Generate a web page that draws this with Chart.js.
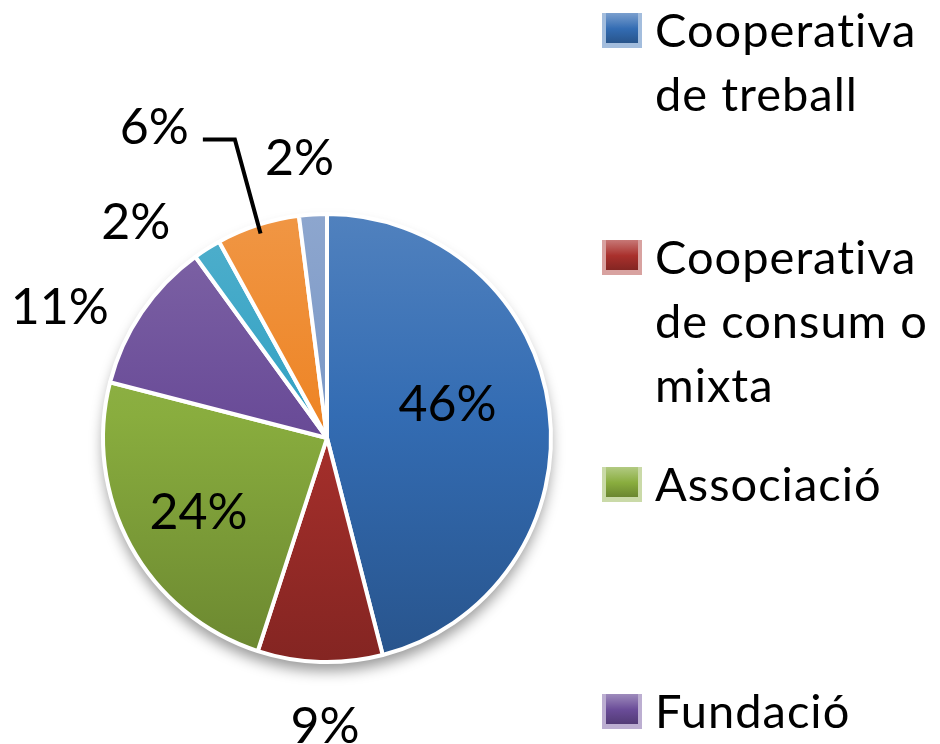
<!DOCTYPE html>
<html>
<head>
<meta charset="utf-8">
<script src="https://cdn.jsdelivr.net/npm/chart.js@4.4.1/dist/chart.umd.min.js"></script>
<style>
  html, body { margin: 0; padding: 0; background: #fff; }
</style>
</head>
<body>
<canvas id="pieChart" width="940" height="744"></canvas>
<script>
// legend labels, one inner array per category (as wrapped in the original)
const categories = [
    ['Cooperativa', 'de treball'],
    ['Cooperativa', 'de consum o', 'mixta'],
    ['Associació'],
    ['Fundació'],
    ['Societat laboral'],
    ["Empresa d'inserció"],
    ['Altres']
];
const percentValues = [46, 9, 24, 11, 2, 6, 2];
const sliceColors = ['#336cb3', '#a9302c', '#89ad3e', '#6a4c98', '#33a2c4', '#ee8526', '#7b98c6'];

// where each percentage sits: distance in pie radii and a turn in degrees from the slice middle
const labelDistance = [0.56, 1.28, 0.66, 1.33, 1.29, 1.59, 1.26];
const labelTurn = [-9, -1.4, -0.8, -8, -9, -11, -2];

const FONT = 'Lato, "Open Sans", sans-serif';

document.addEventListener('DOMContentLoaded', () => {
    initializeChart();
});

function shade(hex, amount) {
    const n = parseInt(hex.slice(1), 16);
    const target = amount < 0 ? 0 : 255;
    const p = Math.abs(amount);
    const mix = c => Math.round(c + (target - c) * p);
    return `rgb(${mix(n >> 16)}, ${mix((n >> 8) & 255)}, ${mix(n & 255)})`;
}

function sliceFill(context) {
    const chart = context.chart;
    const area = chart.chartArea;
    const base = sliceColors[context.dataIndex];
    if (!area) return base;
    const grad = chart.ctx.createLinearGradient(0, area.top, 0, area.bottom);
    grad.addColorStop(0, shade(base, 0.14));
    grad.addColorStop(0.45, base);
    grad.addColorStop(1, shade(base, -0.22));
    return grad;
}

/**
 * Soft shadow under the whole pie.
 */
const pieShadow = {
    id: 'pieShadow',
    beforeDatasetsDraw(chart) {
        const arc = chart.getDatasetMeta(0).data[0];
        if (!arc) return;
        const { x, y, outerRadius } = arc.getProps(['x', 'y', 'outerRadius'], true);
        const ctx = chart.ctx;
        ctx.save();
        ctx.shadowColor = 'rgba(0, 0, 0, 0.4)';
        ctx.shadowBlur = 14;
        ctx.shadowOffsetY = 9;
        ctx.fillStyle = '#fff';
        ctx.beginPath();
        ctx.arc(x, y, outerRadius, 0, Math.PI * 2);
        ctx.fill();
        ctx.restore();
    }
};

/**
 * Percentage labels, with a leader line for the one pushed far out.
 */
const pieLabels = {
    id: 'pieLabels',
    afterDatasetsDraw(chart) {
        const ctx = chart.ctx;
        const size = 50;
        const capHalf = size * 0.717 / 2;
        ctx.save();
        ctx.font = `${size}px ${FONT}`;
        ctx.fillStyle = '#000';
        ctx.textAlign = 'center';
        ctx.textBaseline = 'alphabetic';
        chart.getDatasetMeta(0).data.forEach((arc, i) => {
            const { x, y, startAngle, endAngle, outerRadius } =
                arc.getProps(['x', 'y', 'startAngle', 'endAngle', 'outerRadius'], true);
            const mid = (startAngle + endAngle) / 2;
            const ang = mid + labelTurn[i] * Math.PI / 180;
            const d = outerRadius * labelDistance[i];
            const lx = x + Math.cos(ang) * d;
            const ly = y + Math.sin(ang) * d;
            const text = percentValues[i] + '%';
            ctx.fillText(text, lx, ly + capHalf);

            if (labelDistance[i] > 1.5) {
                const w = ctx.measureText(text).width;
                const sx = lx + w / 2 + 14;
                const sy = ly + 13;
                const ex = x + Math.cos(mid) * outerRadius * 0.96;
                const ey = y + Math.sin(mid) * outerRadius * 0.96;
                ctx.beginPath();
                ctx.moveTo(sx, sy);
                ctx.lineTo(sx + 32, sy);
                ctx.lineTo(ex, ey);
                ctx.lineWidth = 4;
                ctx.lineJoin = 'miter';
                ctx.strokeStyle = '#000';
                ctx.stroke();
            }
        });
        ctx.restore();
    }
};

/**
 * Legend on the right, fixed slots, wrapped text.
 */
const sideLegend = {
    id: 'sideLegend',
    afterDraw(chart) {
        const ctx = chart.ctx;
        const size = 47;
        const capH = size * 0.717;
        const slotH = 227;
        const lineH = 64;
        const top0 = 13;
        const markX = 602, markW = 40, markH = 35, textX = 655;
        ctx.save();
        ctx.font = `${size}px ${FONT}`;
        ctx.letterSpacing = '1px'; // also keeps Lato from joining "ti"
        ctx.fillStyle = '#000';
        ctx.textAlign = 'left';
        ctx.textBaseline = 'alphabetic';
        categories.forEach((lines, i) => {
            const top = top0 + i * slotH;
            const base = sliceColors[i];
            const grad = ctx.createLinearGradient(0, top, 0, top + markH);
            grad.addColorStop(0, shade(base, 0.35));
            grad.addColorStop(0.45, base);
            grad.addColorStop(1, shade(base, -0.3));
            ctx.fillStyle = shade(base, 0.55);
            ctx.fillRect(markX, top, markW, markH);
            ctx.fillStyle = grad;
            ctx.fillRect(markX + 4, top, markW - 8, markH - 5);
            ctx.fillStyle = '#000';
            lines.forEach((line, j) => {
                ctx.fillText(line, textX, top + capH + j * lineH);
            });
        });
        ctx.restore();
    }
};

function initializeChart() {
    const ctx = document.getElementById('pieChart').getContext('2d');

    new Chart(ctx, {
        type: 'pie',
        data: {
            labels: categories.map(lines => lines.join(' ')),
            datasets: [{
                data: percentValues,
                backgroundColor: sliceFill,
                borderColor: '#ffffff',
                borderWidth: 4,
                hoverOffset: 0,
                radius: 224
            }]
        },
        options: {
            responsive: false,
            animation: false,
            layout: {
                padding: { left: 105, right: 391, top: 216, bottom: 84 }
            },
            plugins: {
                legend: { display: false },
                tooltip: { enabled: false }
            }
        },
        plugins: [pieShadow, pieLabels, sideLegend]
    });
}
</script>
</body>
</html>
